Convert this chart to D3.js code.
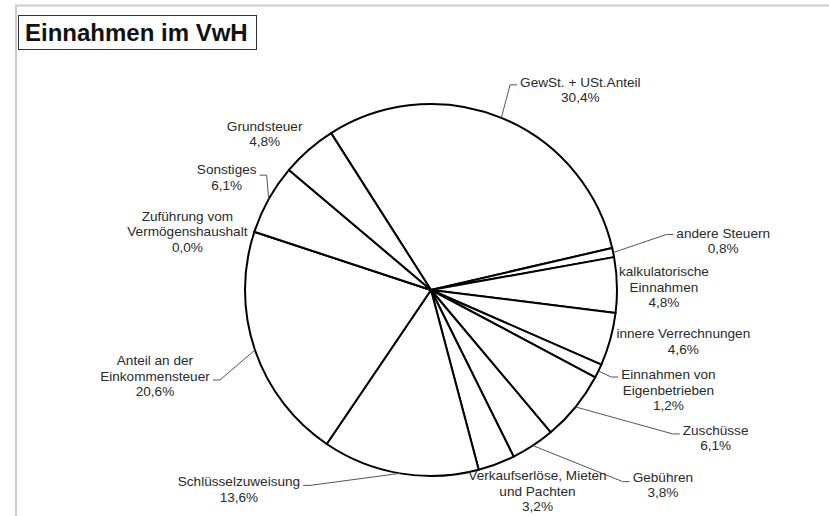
<!DOCTYPE html>
<html>
<head>
<meta charset="utf-8">
<script src="https://cdn.jsdelivr.net/npm/d3@7"></script>
<style>
  body { margin: 0; background: #fff; }
  svg { display: block; font-family: "Liberation Sans", Arial, sans-serif; }
</style>
</head>
<body>
<svg></svg>
<script>
// clockwise, starting at the Grundsteuer / GewSt boundary
const categories = [
  "GewSt.  + USt.Anteil",
  "andere Steuern",
  "kalkulatorische\nEinnahmen",
  "innere Verrechnungen",
  "Einnahmen von\nEigenbetrieben",
  "Zuschüsse",
  "Gebühren",
  "Verkaufserlöse, Mieten\nund Pachten",
  "Schlüsselzuweisung",
  "Anteil an der\nEinkommensteuer",
  "Zuführung vom\nVermögenshaushalt",
  "Sonstiges",
  "Grundsteuer"
]
const shares = [30.4, 0.8, 4.8, 4.6, 1.2, 6.1, 3.8, 3.2, 13.6, 20.6, 0.0, 6.1, 4.8]

// label block offset from the slice's outer mid point, leader y offset (null = no leader)
const labelNudge = [
  [79, -28, -5], [110, -12, -6], [47, 2, null], [73, 2, null],
  [70, 19, -13], [140, 31, -4], [130, 39, -3], [41, 27, null],
  [-161, 16, -4], [-100, 26, 4], [-67, 0, null], [-42, -22, -2], [-44, -16, null]
]

const width = 829, height = 516
const cx = 431, cy = 290, radius = 186
const lineH = 15.5

const svg = d3.select("svg")
    .attr("width", width)
    .attr("height", height)

// frame
svg.append("path")
    .attr("d", `M16,516 V5.5 H829`)
    .attr("fill", "none")
    .attr("stroke", "#cbcbcb")
    .attr("stroke-width", 2)

// title
svg.append("rect")
    .attr("x", 18.5).attr("y", 15.5)
    .attr("width", 238).attr("height", 34)
    .attr("fill", "#fff")
    .attr("stroke", "#333")
svg.append("text")
    .attr("x", 25).attr("y", 41)
    .style("font-size", "24px")
    .style("font-weight", "bold")
    .attr("fill", "#111")
    .text("Einnahmen im VwH")

const fmt = d3.formatLocale({decimal: ",", thousands: ".", grouping: [3], currency: ["", "€"]}).format(".1f")

const start = -32.5 * Math.PI / 180
const pie = d3.pie().sort(null).value(d => d).startAngle(start).endAngle(start + 2 * Math.PI)
const arcs = pie(shares)
const arc = d3.arc().innerRadius(0).outerRadius(radius)

const g = svg.append("g").attr("transform", `translate(${cx},${cy})`)

g.selectAll("path.slice")
  .data(arcs)
  .join("path")
    .attr("class", "slice")
    .attr("d", arc)
    .attr("fill", "#fff")
    .attr("stroke", "#000")
    .attr("stroke-width", 2)
    .attr("stroke-linejoin", "round")

const labels = g.append("g")

arcs.forEach((a, i) => {
  const mid = (a.startAngle + a.endAngle) / 2
  const px = radius * Math.sin(mid), py = -radius * Math.cos(mid)
  const [dx, dy, ly] = labelNudge[i]
  const lines = categories[i].split("\n").concat(fmt(shares[i]) + "%")
  const bx = px + dx, by = py + dy
  const top = by - (lines.length - 1) * lineH / 2

  const t = labels.append("text")
      .attr("text-anchor", "middle")
      .style("font-size", "13.6px")
      .attr("fill", "#2a2a2a")
  lines.forEach((l, k) => {
    t.append("tspan")
      .attr("x", bx)
      .attr("y", top + k * lineH)
      .attr("dy", "0.35em")
      .text(l)
  })

  if (ly !== null) {
    const w = t.node().getBBox().width
    const right = dx > 0
    const ex = right ? bx - w / 2 - 3 : bx + w / 2 + 3
    const ey = by + ly
    const elx = right ? ex - 7 : ex + 7
    labels.append("path")
      .attr("d", `M${px},${py} L${elx},${ey} L${ex},${ey}`)
      .attr("fill", "none")
      .attr("stroke", "#555")
      .attr("stroke-width", 1)
  }
})
</script>
</body>
</html>
